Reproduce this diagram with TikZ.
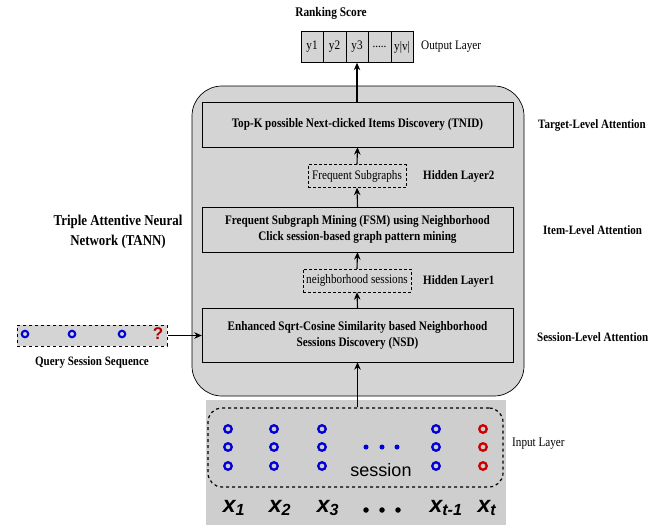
\documentclass[tikz,border=0pt]{standalone}
\usepackage{fontspec}
\setmainfont{Liberation Serif}[FakeStretch=0.86]
\newfontfamily\sansf{Liberation Sans}
\usetikzlibrary{arrows.meta}
\definecolor{boxgray}{RGB}{212,212,212}
\definecolor{ingray}{RGB}{206,206,206}
\definecolor{ringblue}{RGB}{0,0,215}
\definecolor{ringred}{RGB}{205,0,0}
\definecolor{qred}{RGB}{175,0,0}
\begin{document}
\begin{tikzpicture}[x=1pt,y=-1pt,
  lbl/.style={font=\fontsize{12.8}{14}\selectfont\bfseries, inner sep=0},
  plbl/.style={font=\fontsize{13}{14}\selectfont, inner sep=0},
  stage/.style={draw, fill=boxgray, minimum width=311pt, minimum height=45pt, align=center, font=\fontsize{13}{16}\selectfont\bfseries, inner sep=0},
  hid/.style={draw, densely dashed, fill=boxgray, inner sep=0, minimum height=23pt, font=\fontsize{13}{14}\selectfont},
  cell/.style={draw, fill=boxgray, minimum width=22.5pt, minimum height=31pt, inner sep=0, font=\fontsize{13}{14}\selectfont},
  arr/.style={-{Stealth[length=7.5pt,width=6.5pt]}, line width=1.1pt},
  ringb/.style={circle, draw=ringblue, line width=2.3pt, minimum size=7.5pt, inner sep=0},
  ringr/.style={ringb, draw=ringred},
  qring/.style={circle, draw=ringblue, line width=2.1pt, minimum size=6.5pt, inner sep=0},
  xlab/.style={font=\fontsize{23}{24}\selectfont\sansf\bfseries\itshape, inner sep=0},
  bdot/.style={circle, fill=ringblue, minimum size=5pt, inner sep=0},
  kdot/.style={circle, fill=black, minimum size=5.5pt, inner sep=0}]
\useasboundingbox (0,0) rectangle (664,525);

% output layer
\node[font=\fontsize{13.2}{14}\selectfont\bfseries, inner sep=0] (rank) at (331,13) {Ranking Score};
\node[cell] (y1) at (312,47) {y1};
\node[cell] (y2) at (334.5,47) {y2};
\node[cell] (y3) at (357,47) {y3};
\node[cell] (y4) at (379.5,47) {.....};
\node[cell] (y5) at (402,47) {y|v|};
\node[plbl, anchor=west] (outl) at (421,47) {Output Layer};

% TANN container
\node[draw, fill=boxgray, rounded corners=30pt, minimum width=332pt, minimum height=310pt, line width=0.7pt] (tann) at (358,241) {};

\node[stage] (tnid) at (357.5,124.5) {Top-K possible Next-clicked Items Discovery (TNID)};
\node[hid, minimum width=98pt] (fs) at (357,176) {Frequent Subgraphs};
\node[stage] (fsm) at (357.5,229.5) {Frequent Subgraph Mining (FSM) using Neighborhood\\Click session-based graph pattern mining};
\node[hid, minimum width=108pt] (ns) at (357,280.5) {neighborhood sessions};
\node[stage, minimum height=54pt] (nsd) at (357.5,335) {Enhanced Sqrt-Cosine Similarity based Neighborhood\\Sessions Discovery (NSD)};

\node[lbl, anchor=west] (h2) at (423,176) {Hidden Layer2};
\node[lbl, anchor=west] (h1) at (423,281) {Hidden Layer1};
\node[lbl, anchor=west] (tla) at (538,125) {Target-Level Attention};
\node[lbl, anchor=west] (ila) at (543,230) {Item-Level Attention};
\node[lbl, anchor=west] (sla) at (537,337) {Session-Level Attention};
\node[plbl, anchor=west] (inl) at (512,444) {Input Layer};

\node[font=\fontsize{15}{20}\selectfont\bfseries, align=center] (tname) at (118,232) {Triple Attentive Neural\\Network (TANN)};

\draw[arr] (fs.north) -- (tnid.south);
\draw[arr] (fsm.north) -- (fs.south);
\draw[arr] (ns.north) -- (fsm.south);
\draw[arr] (nsd.north) -- (ns.south);
\draw[arr] (y3.south |- tnid.north) -- (y3.south);

% query session
\node[draw, fill=boxgray, dashed, line width=1pt, minimum width=150pt, minimum height=21pt, inner sep=0] (query) at (92,335.5) {};
\node[qring] (q1) at (25,334) {};
\node[qring] (q2) at (72,334) {};
\node[qring] (q3) at (122,334) {};
\node[font=\fontsize{17}{17}\selectfont\sansf\bfseries, text=qred, inner sep=0] (q4) at (158,334) {?};
\node[lbl] (qlab) at (92,362) {Query Session Sequence};
\draw[arr] (query.east) -- (nsd.west |- query.east);

% input layer
\fill[ingray] (206,400) rectangle (506,525);
\node[draw, dashed, line width=1.2pt, rounded corners=14pt, minimum width=295pt, minimum height=79pt] (sess) at (355.5,447.5) {};
\draw[arr] (nsd.south |- sess.north) -- (nsd.south);

\foreach \c/\x in {1/228,2/274,3/322,4/436}{
  \foreach \r/\y in {1/429,2/447,3/466}{
    \node[ringb] (c\c r\r) at (\x,\y) {};
  }
}
\foreach \r/\y in {1/429,2/447,3/466}{
  \node[ringr] (c5r\r) at (483,\y) {};
}
\node[bdot] (d1) at (366,447) {};
\node[bdot] (d2) at (382,447) {};
\node[bdot] (d3) at (397,447) {};
\node[font=\fontsize{18}{18}\selectfont\sansf, inner sep=0] (sesslab) at (381,470) {session};

\node[xlab] (x1) at (234,508) {x\textsubscript{1}};
\node[xlab] (x2) at (280,508) {x\textsubscript{2}};
\node[xlab] (x3) at (328,508) {x\textsubscript{3}};
\node[kdot] (k1) at (366,510) {};
\node[kdot] (k2) at (382,510) {};
\node[kdot] (k3) at (398,510) {};
\node[xlab] (xt1) at (446,508) {x\textsubscript{t-1}};
\node[xlab] (xt) at (487,508) {x\textsubscript{t}};
\end{tikzpicture}
\end{document}
